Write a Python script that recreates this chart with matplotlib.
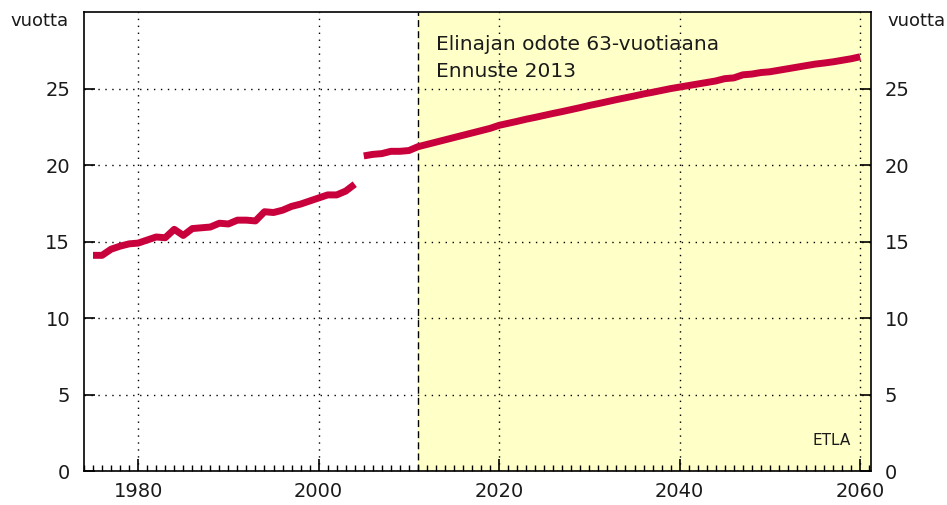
import numpy as np
import matplotlib
matplotlib.use("Agg")
import matplotlib.pyplot as plt
from matplotlib.ticker import MultipleLocator

# Toteutunut elinajan odote 63-vuotiaana
vuodet_hist = list(range(1975, 2005))
odote_hist = [14.1, 14.1, 14.5, 14.7, 14.85, 14.9, 15.1, 15.3, 15.25, 15.8,
              15.4, 15.85, 15.9, 15.95, 16.2, 16.15, 16.4, 16.4, 16.35, 16.95,
              16.9, 17.05, 17.3, 17.45, 17.65, 17.85, 18.05, 18.05, 18.3, 18.75]

# Ennuste 2013
vuodet_ennuste = list(range(2005, 2061))
odote_ennuste = [20.6, 20.7, 20.75, 20.9, 20.9, 20.95, 21.2, 21.35, 21.5, 21.65,
                 21.8, 21.95, 22.1, 22.25, 22.4, 22.6, 22.73, 22.86, 23.0, 23.12,
                 23.25, 23.38, 23.5, 23.63, 23.76, 23.9, 24.02, 24.15, 24.28, 24.4,
                 24.52, 24.65, 24.76, 24.88, 25.0, 25.1, 25.2, 25.3, 25.4, 25.5,
                 25.65, 25.7, 25.9, 25.95, 26.05, 26.1, 26.2, 26.3, 26.4, 26.5,
                 26.6, 26.67, 26.75, 26.85, 26.95, 27.08]

ennuste_alku = 2011
punainen = "#c8003c"
teksti = "#1a1a1a"

fig = plt.figure(figsize=(9.47, 5.05), dpi=100)
ax = fig.add_axes([0.0887, 0.0673, 0.8310, 0.9087])

ax.set_xlim(1974, 2061.2)
ax.set_ylim(0, 30)

ax.axvspan(ennuste_alku, 2061.2, color="#ffffc8", zorder=0)
ax.axvline(ennuste_alku, color="black", linestyle=(0, (5, 3)), linewidth=1.0, zorder=1)

ax.plot(vuodet_hist, odote_hist, color=punainen, linewidth=5, solid_capstyle="butt", zorder=3)
ax.plot(vuodet_ennuste, odote_ennuste, color=punainen, linewidth=5, solid_capstyle="butt", zorder=3)

ax.xaxis.set_major_locator(MultipleLocator(20))
ax.xaxis.set_minor_locator(MultipleLocator(1))
ax.set_yticks([0, 5, 10, 15, 20, 25])

ax.grid(True, which="major", color="black", linestyle=(0, (1, 4)), linewidth=1.0)

ax.tick_params(axis="x", which="major", direction="in", length=9, width=1.2,
               labelsize=14, pad=8, labelcolor=teksti)
ax.tick_params(axis="x", which="minor", direction="in", length=4, width=1)
ax.tick_params(axis="y", which="major", direction="in", length=8, width=1.2,
               labelsize=14, left=True, right=True, labelleft=True, labelright=True,
               pad=10, labelcolor=teksti)

for s in ax.spines.values():
    s.set_linewidth(1.2)

fig.text(0.011, 0.958, "vuotta", fontsize=13, ha="left", va="center", color=teksti)
fig.text(0.937, 0.958, "vuotta", fontsize=13, ha="left", va="center", color=teksti)

ax.text(2013.0, 27.9, "Elinajan odote 63-vuotiaana", fontsize=14.5, ha="left", va="center", color=teksti)
ax.text(2013.0, 26.1, "Ennuste 2013", fontsize=14.5, ha="left", va="center", color=teksti)
ax.text(2059.0, 2.0, "ETLA", fontsize=11, ha="right", va="center", color=teksti)

fig.savefig("out.png", dpi=100)
